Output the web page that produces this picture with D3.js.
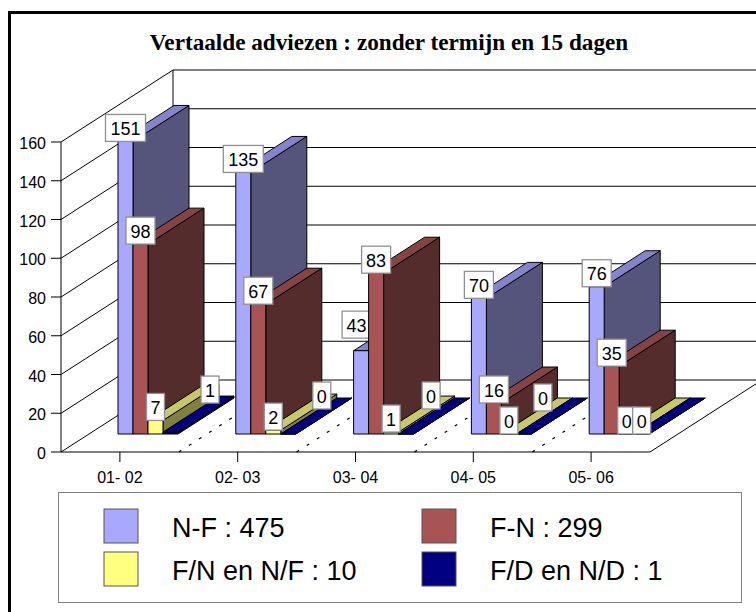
<!DOCTYPE html>
<html>
<head>
<meta charset="utf-8">
<script src="https://cdnjs.cloudflare.com/ajax/libs/d3/7.8.5/d3.min.js"></script>
<style>
html, body { margin: 0; padding: 0; background: #fff; }
svg { display: block; }
text { font-family: "Liberation Sans", Arial, sans-serif; fill: #000; }
</style>
</head>
<body>
<div id="chart"></div>
<script>
// Chart data
var categories = ["01- 02", "02- 03", "03- 04", "04- 05", "05- 06"];
var seriesNames = ["N-F", "F-N", "F/N en N/F", "F/D en N/D"];
var seriesTotals = [475, 299, 10, 1];
var nf = [151, 135, 43, 70, 76];
var fn = [98, 67, 83, 16, 35];
var fnNf = [7, 2, 1, 0, 0];
var fdNd = [1, 0, 0, 0, 0];
var seriesValues = [nf, fn, fnNf, fdNd];
var yTicks = [0, 20, 40, 60, 80, 100, 120, 140, 160];
var title = "Vertaalde adviezen : zonder termijn en 15 dagen";

// face colours per series
var frontColors = ["#a8a8ff", "#a85454", "#ffff80", "#000080"];
var topColors = ["#8484cc", "#844444", "#c8c864", "#000080"];
var sideColors = ["#55557c", "#542c2c", "#80803f", "#000040"];

// labels that were dragged away from their bar: "series-category" -> [dx, dy]
var labelMoves = {
    "3-0": [39.5, -29],
    "3-1": [33.5, -25],
    "3-2": [25, -25],
    "3-3": [19, -23],
    "0-2": [-4.5, -12.5]
};

var svg = d3.select("#chart").append("svg").attr("width", 756).attr("height", 612);

// Scales. The chart sits on a floor that runs back by (112, -72)
var x = d3.scaleBand().domain(categories).range([61, 650]);
var y = d3.scaleLinear().domain([0, 160]).range([452, 142]);
var series = d3.scaleBand().domain(d3.range(4)).range([29, 89]);
var depthX = d3.scaleLinear().domain([0, 1]).range([0, 112]);
var depthY = d3.scaleLinear().domain([0, 1]).range([0, -72]);

function pt(px, value, depth) {
    return [px + depthX(depth), y(value) + depthY(depth)];
}

function poly(points) {
    return points.map(function(p) { return p.join(","); }).join(" ");
}

// Frame
svg.append("line").attr("x1", 9.5).attr("y1", 12.5).attr("x2", 9.5).attr("y2", 612)
    .attr("stroke", "#000").attr("stroke-width", 3);
svg.append("line").attr("x1", 8).attr("y1", 12.5).attr("x2", 756).attr("y2", 12.5)
    .attr("stroke", "#000").attr("stroke-width", 3);

svg.append("text").attr("x", 389).attr("y", 50).attr("text-anchor", "middle")
    .style("font-family", "'Liberation Serif', serif").style("font-weight", "bold")
    .style("font-size", "23.2px").text(title);

// Walls and gridlines
var walls = svg.append("g").attr("fill", "none").attr("stroke", "#000");
yTicks.forEach(function(t) {
    var a = pt(61, t, 0), b = pt(61, t, 1), c = pt(800, t, 1);
    walls.append("polyline").attr("points", poly([a, b, c]));
});
walls.append("polyline").attr("points", poly([pt(61, 160, 1), pt(61, 0, 1)]));
walls.append("polyline").attr("points", poly([pt(650, 0, 0), pt(650, 0, 1)]));

// dotted lines across the floor between the categories
categories.slice(1).forEach(function(c) {
    walls.append("polyline")
        .attr("points", poly([pt(x(c), 0, 0), pt(x(c), 0, 1)]))
        .attr("stroke-width", 1.2)
        .attr("stroke-dasharray", "3,9");
});

// Axes
var yAxis = d3.axisLeft(y).tickValues(yTicks).tickSize(10).tickSizeOuter(0).tickPadding(5).offset(0);
var yG = svg.append("g").attr("transform", "translate(61,0)").call(yAxis);
var xAxis = d3.axisBottom(x).tickSize(10).tickSizeOuter(0).tickPadding(9.5).offset(0);
var xG = svg.append("g").attr("transform", "translate(0,452)").call(xAxis);
yG.selectAll("text").attr("dy", "0.38em").attr("y", 1)
    .style("font-size", "16px").style("font-family", "'Liberation Sans', sans-serif");
xG.selectAll("text").style("font-size", "16px").style("font-family", "'Liberation Sans', sans-serif");
yG.selectAll("line,path").attr("stroke", "#000");
xG.selectAll("line,path").attr("stroke", "#000");

// Bars, left to right so each bar covers the side of the one before
var barLayer = svg.append("g").attr("stroke", "#000").attr("stroke-width", 1).attr("stroke-linejoin", "round");
var labelLayer = svg.append("g");

function drawLabel(layer, s, c, value) {
    var move = labelMoves[s + "-" + c] || [0, 0];
    var text = String(value);
    var w = text.length == 3 ? 40 : (text.length == 2 ? 29 : 18);
    var h = 27;
    var cx = x(categories[c]) + series(s) + series.bandwidth() / 2 + depthX(0.25) + move[0];
    var bottom = y(value) + depthY(0.25) + move[1];
    var g = layer.append("g");
    g.append("rect").attr("x", cx - w / 2).attr("y", bottom - h)
        .attr("width", w).attr("height", h)
        .attr("fill", "#fff").attr("stroke", "#909090").attr("stroke-width", 1.3);
    g.append("text").attr("x", cx).attr("y", bottom - h / 2 + 7)
        .attr("text-anchor", "middle").style("font-size", "18px").text(text);
}

categories.forEach(function(cat, c) {
    seriesValues.forEach(function(vals, s) {
        var v = vals[c];
        var l = x(cat) + series(s);
        var r = l + series.bandwidth();
        // side face
        barLayer.append("polygon").attr("fill", sideColors[s])
            .attr("points", poly([pt(r, 0, 0.25), pt(r, 0, 0.75), pt(r, v, 0.75), pt(r, v, 0.25)]));
        // top face
        barLayer.append("polygon").attr("fill", topColors[s])
            .attr("points", poly([pt(l, v, 0.25), pt(r, v, 0.25), pt(r, v, 0.75), pt(l, v, 0.75)]));
        // front face
        barLayer.append("polygon").attr("fill", frontColors[s])
            .attr("points", poly([pt(l, 0, 0.25), pt(r, 0, 0.25), pt(r, v, 0.25), pt(l, v, 0.25)]));
        // the 43 label sits behind the red bar next to it
        if (s == 0 && c == 2) drawLabel(barLayer.append("g").attr("stroke", "none"), s, c, v);
    });
});

categories.forEach(function(cat, c) {
    seriesValues.forEach(function(vals, s) {
        if (s == 0 && c == 2) return;
        drawLabel(labelLayer, s, c, vals[c]);
    });
});

// Legend
svg.append("rect").attr("x", 58.5).attr("y", 492.5).attr("width", 683).attr("height", 110)
    .attr("fill", "#fff").attr("stroke", "#808080");

var legendX = d3.scalePoint().domain([0, 1]).range([104, 422]);
var legendY = d3.scalePoint().domain([0, 1]).range([509, 552]);
seriesNames.forEach(function(name, i) {
    var col = i % 2, row = Math.floor(i / 2);
    svg.append("rect").attr("x", legendX(col)).attr("y", legendY(row))
        .attr("width", 34).attr("height", 34)
        .attr("fill", frontColors[i]).attr("stroke", "#555");
    svg.append("text").attr("x", legendX(col) + 68).attr("y", legendY(row) + 28)
        .style("font-size", "27px").text(name + " : " + seriesTotals[i]);
});
</script>
</body>
</html>
